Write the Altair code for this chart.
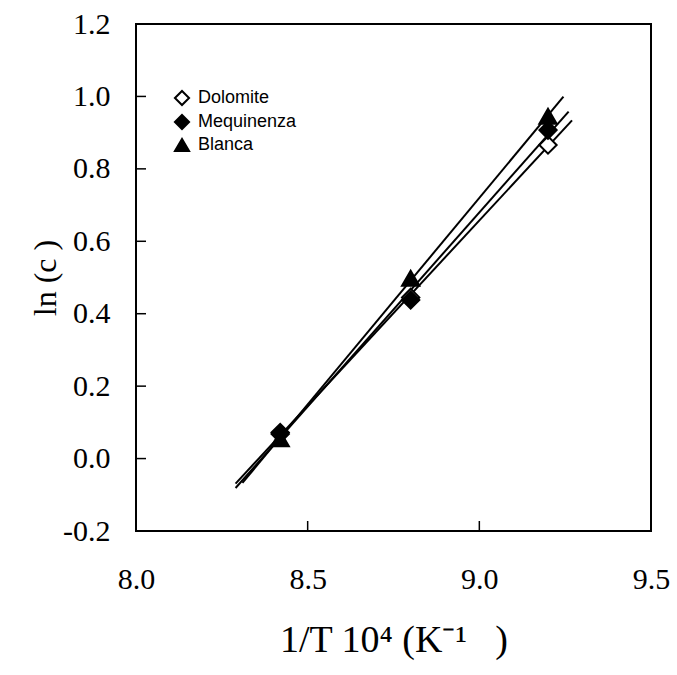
import altair as alt
import pandas as pd

# data
x_vals = [8.42, 8.80, 9.20]
dolomite = [0.068, 0.445, 0.866]
mequinenza = [0.072, 0.438, 0.907]
blanca = [0.055, 0.498, 0.945]
series_names = ["Dolomite", "Mequinenza", "Blanca"]
fit_extents = {"Dolomite": [8.29, 9.27], "Mequinenza": [8.29, 9.26], "Blanca": [8.31, 9.245]}
x_ticks = [8.0, 8.5, 9.0, 9.5]
y_ticks = [-0.2, 0.0, 0.2, 0.4, 0.6, 0.8, 1.0, 1.2]
x_inner_ticks = [8.5, 9.0]
y_inner_ticks = [0.0, 0.2, 0.4, 0.6, 0.8, 1.0]

rows = []
for name, vals in zip(series_names, [dolomite, mequinenza, blanca]):
    for xv, yv in zip(x_vals, vals):
        rows.append({"x": xv, "y": yv, "series": name})
df = pd.DataFrame(rows)

W, H = 515, 507
xs = alt.Scale(domain=[8.0, 9.5], nice=False, zero=False)
ys = alt.Scale(domain=[-0.2, 1.2], nice=False, zero=False)

x_axis = alt.Axis(values=x_ticks, format=".1f", ticks=False, domain=False, grid=False,
                  labelFlush=False,
                  labelFont="Liberation Serif", labelFontSize=30, labelPadding=33,
                  labelColor="black", title="1/T 10\u2074 (K\u207b\u00b9\u00a0\u00a0\u00a0)",
                  titleFont="Liberation Serif",
                  titleFontSize=38, titleFontWeight="normal", titleColor="black", titlePadding=27)
y_axis = alt.Axis(values=y_ticks, format=".1f", ticks=False, domain=False, grid=False,
                  labelFlush=False,
                  labelExpr="replace(datum.label, '\u2212', '-')",
                  labelFont="Liberation Serif", labelFontSize=30, labelPadding=26,
                  labelColor="black", title="ln (c )\u00a0\u00a0", titleFont="Liberation Serif",
                  titleFontSize=32, titleFontWeight="normal", titleColor="black", titlePadding=0)

legend = alt.Legend(title=None, orient="none", legendX=37, legendY=65,
                    labelFont="Liberation Sans", labelFontSize=18, labelColor="black",
                    symbolSize=200, symbolStrokeWidth=2,
                    rowPadding=0, labelOffset=7)

points = alt.Chart(df).mark_point(filled=True, size=300, strokeWidth=2, opacity=1).encode(
    x=alt.X("x:Q", scale=xs, axis=x_axis),
    y=alt.Y("y:Q", scale=ys, axis=y_axis),
    shape=alt.Shape("series:N", scale=alt.Scale(domain=series_names, range=["diamond", "diamond", "triangle-up"]),
                    legend=legend),
    fill=alt.Fill("series:N", scale=alt.Scale(domain=series_names, range=["white", "black", "black"]),
                  legend=legend),
    stroke=alt.Stroke("series:N", scale=alt.Scale(domain=series_names, range=["black", "black", "black"]),
                      legend=legend),
)

lines = []
for name in series_names:
    lines.append(
        alt.Chart(df).transform_filter(alt.datum.series == name)
        .transform_regression("x", "y", extent=fit_extents[name])
        .mark_line(color="black", strokeWidth=2)
        .encode(x=alt.X("x:Q", scale=xs), y=alt.Y("y:Q", scale=ys))
    )

xt_df = pd.DataFrame({"t": x_inner_ticks})
yt_df = pd.DataFrame({"t": y_inner_ticks})
xticks = alt.Chart(xt_df).mark_tick(orient="vertical", size=20, thickness=1.5, color="black", clip=True, opacity=1).encode(
    x=alt.X("t:Q", scale=xs), y=alt.datum(-0.2))
yticks = alt.Chart(yt_df).mark_tick(orient="horizontal", size=20, thickness=1.5, color="black", clip=True, opacity=1).encode(
    y=alt.Y("t:Q", scale=ys), x=alt.datum(8.0))

chart = alt.layer(*lines, xticks, yticks, points).properties(
    width=W, height=H,
    background="white",
    autosize=alt.AutoSizeParams(type="none"),
    padding={"left": 136, "top": 24, "right": 26, "bottom": 144},
).configure_view(stroke="black", strokeWidth=2)

chart.save("out.html", embed_options={"renderer": "svg", "actions": False})
